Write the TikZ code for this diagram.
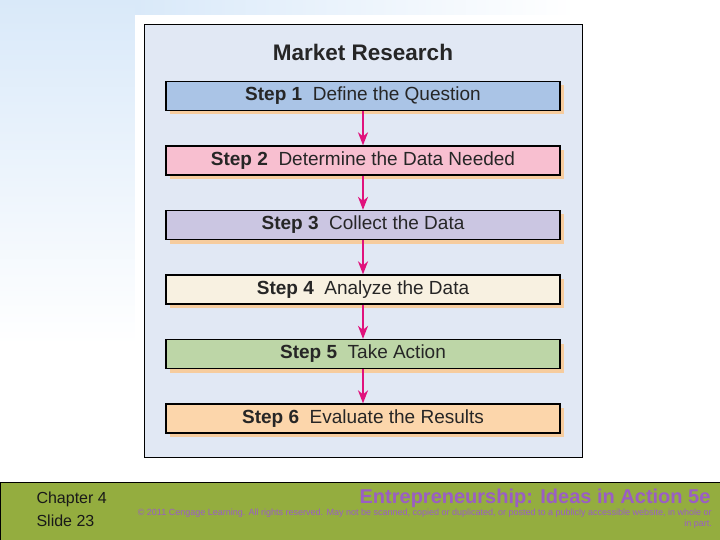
\documentclass[tikz,border=0pt]{standalone}
\usepackage{fontspec}
\setmainfont{Liberation Sans}
\usetikzlibrary{arrows.meta,positioning,shadows}

\definecolor{bgblue}{HTML}{D9E9F9}
\definecolor{panelc}{HTML}{E1E8F4}
\definecolor{shadowc}{HTML}{F6CC9E}
\definecolor{arrowc}{HTML}{E0127C}
\definecolor{footgreen}{HTML}{94AD3F}
\definecolor{purplec}{HTML}{9A5EC4}
\definecolor{c1}{HTML}{AAC4E6}
\definecolor{c2}{HTML}{F8BFD0}
\definecolor{c3}{HTML}{CBC6E2}
\definecolor{c4}{HTML}{F8F1E1}
\definecolor{c5}{HTML}{BDD6A7}
\definecolor{c6}{HTML}{FCD6AB}

\tikzset{
    stepbox/.style={draw, line width=1.3pt, minimum width=394pt, minimum height=29pt,
        font=\fontsize{19}{22}\selectfont, text=black!85,
        drop shadow={shadow xshift=3.5pt, shadow yshift=-4pt, fill=shadowc, opacity=1}},
    flow/.style={draw=arrowc, line width=1.8pt, -{Stealth[length=13pt,width=10pt,inset=4pt]}},
    foot/.style={font=\fontsize{16}{18}\selectfont, anchor=west, text=black!90},
    small/.style={anchor=east, text=purplec, font=\fontsize{9}{10}\selectfont, inner sep=1pt}
}

\begin{document}
\begin{tikzpicture}[x=1pt,y=-1pt]
    \useasboundingbox (0,0) rectangle (720,540);

    % Background
    \shade[top color=bgblue, bottom color=white] (0,0) rectangle (135,345);
    \shade[left color=bgblue, right color=white] (135,0) rectangle (575,15);
    \fill[white] (135,15) rectangle (575,478);

    % Panel
    \node[draw, line width=1pt, fill=panelc, minimum width=438pt, minimum height=432pt] (panel) at (363,241) {};
    \node[font=\bfseries\fontsize{22.5}{26}\selectfont, text=black!85] (title) at (363,52) {Market Research};

    % Steps
    \foreach \i/\c/\t in {
            1/c1/Define the Question,
            2/c2/Determine the Data Needed,
            3/c3/Collect the Data,
            4/c4/Analyze the Data,
            5/c5/Take Action,
            6/c6/Evaluate the Results
            } {
        \node[stepbox, fill=\c] (step\i) at (363,96+64.5*\i-64.5) {\textbf{Step \i}\ \ \t};
    }

    \draw [flow] (step1.south) -- (step2.north);
    \draw [flow] (step2.south) -- (step3.north);
    \draw [flow] (step3.south) -- (step4.north);
    \draw [flow] (step4.south) -- (step5.north);
    \draw [flow] (step5.south) -- (step6.north);

    % Footer
    \fill[footgreen, draw=black, line width=1pt] (0,482) rectangle (720,540);
    \node[foot] (chapter) at (33,499) {Chapter 4};
    \node[foot] (slide) at (33,521) {Slide 23};
    \node[anchor=east, text=purplec, font=\bfseries\fontsize{20}{22}\selectfont] (book) at (714,498) {Entrepreneurship: Ideas in Action 5e};
    \node[small] (copy) at (713,513) {© 2011 Cengage Learning. All rights reserved. May not be scanned, copied or duplicated, or posted to a publicly accessible website, in whole or};
    \node[small] (part) at (713,524) {in part.};
\end{tikzpicture}
\end{document}
